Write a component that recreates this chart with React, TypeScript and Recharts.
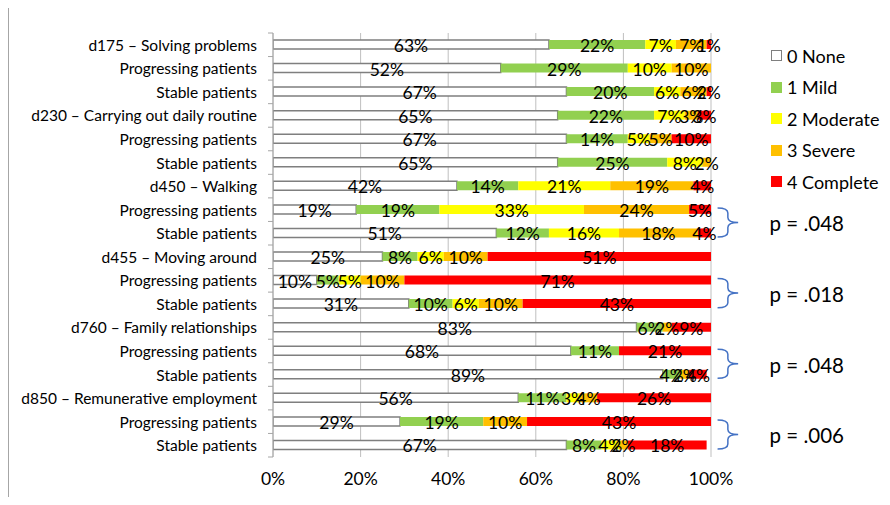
import React from 'react'
import {
  BarChart,
  Bar,
  XAxis,
  YAxis,
  CartesianGrid,
  LabelList,
  ReferenceArea,
} from 'recharts'

// ICF items, each followed by its two patient subgroups
const categories = [
  'd175 – Solving problems',
  'Progressing patients',
  'Stable patients',
  'd230 – Carrying out daily routine',
  'Progressing patients',
  'Stable patients',
  'd450 – Walking',
  'Progressing patients',
  'Stable patients',
  'd455 – Moving around',
  'Progressing patients',
  'Stable patients',
  'd760 – Family relationships',
  'Progressing patients',
  'Stable patients',
  'd850 – Remunerative employment',
  'Progressing patients',
  'Stable patients',
]

// share of patients (%) per qualifier
const none = [63, 52, 67, 65, 67, 65, 42, 19, 51, 25, 10, 31, 83, 68, 89, 56, 29, 67]
const mild = [22, 29, 20, 22, 14, 25, 14, 19, 12, 8, 5, 10, 6, 11, 4, 11, 19, 8]
const moderate = [7, 10, 6, 7, 5, 8, 21, 33, 16, 6, 5, 6, 0, 0, 0, 3, 0, 4]
const severe = [7, 10, 6, 3, 5, 2, 19, 24, 18, 10, 10, 10, 2, 0, 2, 4, 10, 2]
const complete = [1, 0, 2, 3, 10, 0, 4, 5, 4, 51, 71, 43, 9, 21, 4, 26, 43, 18]

const xTicks = [0, 20, 40, 60, 80, 100]

// subgroup comparisons: first and second row index, p value
const pFirst = [7, 10, 13, 16]
const pSecond = [8, 11, 14, 17]
const pValues = ['p = .048', 'p = .018', 'p = .048', 'p = .006']

const series = [
  { key: 'none', name: '0 None', fill: '#ffffff', stroke: '#7f7f7f' },
  { key: 'mild', name: '1 Mild', fill: '#92d050' },
  { key: 'moderate', name: '2 Moderate', fill: '#ffff00' },
  { key: 'severe', name: '3 Severe', fill: '#ffc000' },
  { key: 'complete', name: '4 Complete', fill: '#ff0000' },
]

const data = categories.map((label, i) => ({
  id: `r${i}`,
  label,
  none: none[i],
  mild: mild[i],
  moderate: moderate[i],
  severe: severe[i],
  complete: complete[i],
}))

const FONT = 'Lato, "Open Sans", sans-serif'
const W = 890
const H = 505
const MARGIN = { top: 33, right: 179, bottom: 18, left: 0 }
const Y_AXIS_W = 273
const X_AXIS_H = 30
const BAND = (H - MARGIN.top - MARGIN.bottom - X_AXIS_H) / categories.length

const CategoryTick = (props: any) => {
  const { x, y, payload, index } = props
  const row = data.find((d) => d.id === payload.value)
  const axisX = x + 16
  return (
    <g>
      <line x1={axisX - 5} x2={axisX} y1={y - BAND / 2} y2={y - BAND / 2} stroke="#a6a6a6" />
      {index === categories.length - 1 && (
        <line x1={axisX - 5} x2={axisX} y1={y + BAND / 2} y2={y + BAND / 2} stroke="#a6a6a6" />
      )}
      <text
        x={x}
        y={y}
        textAnchor="end"
        dominantBaseline="central"
        fontFamily={FONT}
        fontSize={15.5}
        fill="#000"
      >
        {row ? row.label : ''}
      </text>
    </g>
  )
}

const PercentLabel = (props: any) => {
  const { x, y, width, height, value } = props
  if (!value) return null
  return (
    <text
      x={Number(x) + Number(width) / 2}
      y={Number(y) + Number(height) / 2 + 1}
      textAnchor="middle"
      dominantBaseline="central"
      fontFamily={FONT}
      fontSize={17.5}
      fill="#000"
    >
      {value}%
    </text>
  )
}

// curly brace grouping two rows, with the test result to its right
const makeBrace = (text: string) => (props: any) => {
  const { x, y, width, height } = props
  const top = y + 10
  const bottom = y + height - 8
  const mid = (top + bottom) / 2
  const xm = x + width / 2
  const xt = x + width
  const r = 5
  const d = [
    `M${x},${top}`,
    `Q${xm},${top} ${xm},${top + r}`,
    `L${xm},${mid - r}`,
    `Q${xm},${mid} ${xt},${mid}`,
    `Q${xm},${mid} ${xm},${mid + r}`,
    `L${xm},${bottom - r}`,
    `Q${xm},${bottom} ${x},${bottom}`,
  ].join(' ')
  return (
    <g>
      <path d={d} fill="none" stroke="#4472c4" strokeWidth={1.5} />
      <text
        x={x + 52}
        y={mid + 1}
        dominantBaseline="central"
        fontFamily={FONT}
        fontSize={20.5}
        fill="#000"
      >
        {text}
      </text>
    </g>
  )
}

function SeverityLegend() {
  return (
    <div
      style={{
        position: 'absolute',
        left: 771,
        top: 40,
        fontFamily: FONT,
        fontSize: 18,
        color: '#000',
        whiteSpace: 'nowrap',
      }}
    >
      {series.map((s) => (
        <div key={s.key} style={{ display: 'flex', alignItems: 'center', height: 31.5 }}>
          <span
            style={{
              display: 'inline-block',
              flexShrink: 0,
              width: s.stroke ? 9 : 11,
              height: s.stroke ? 9 : 11,
              background: s.fill,
              border: s.stroke ? `1.5px solid ${s.stroke}` : 'none',
              marginRight: 5,
            }}
          />
          {s.name}
        </div>
      ))}
    </div>
  )
}

export default function App() {
  return (
    <div style={{ position: 'relative', width: W, height: H, margin: -8, background: '#fff', overflow: 'hidden' }}>
      <div
        style={{
          position: 'absolute',
          left: 8,
          top: -2,
          width: 879,
          height: 504,
          borderLeft: '1px solid #a6a6a6',
          borderRight: '1px solid #a6a6a6',
          borderBottom: '1px solid #a6a6a6',
          boxSizing: 'border-box',
        }}
      />
      <div style={{ position: 'absolute', left: 0, top: 0 }}>
        <BarChart width={W} height={H} data={data} layout="vertical" margin={MARGIN} barSize={9}>
          <CartesianGrid horizontal={false} stroke="#bfbfbf" />
          <XAxis
            type="number"
            domain={[0, 100]}
            allowDataOverflow
            ticks={xTicks}
            tickFormatter={(v) => `${v}%`}
            axisLine={false}
            tickLine={false}
            tickSize={0}
            tickMargin={16}
            height={X_AXIS_H}
            tick={{ fontFamily: FONT, fontSize: 17.5, fill: '#000' }}
          />
          <YAxis
            type="category"
            dataKey="id"
            width={Y_AXIS_W}
            axisLine={{ stroke: '#a6a6a6' }}
            tickLine={false}
            tickSize={0}
            tickMargin={16}
            interval={0}
            tick={<CategoryTick />}
          />
          {series.map((s) => (
            <Bar
              key={s.key}
              dataKey={s.key}
              name={s.name}
              stackId="a"
              fill={s.fill}
              stroke={s.stroke}
              strokeWidth={s.stroke ? 1.5 : 0}
              isAnimationActive={false}
            >
              <LabelList dataKey={s.key} content={<PercentLabel />} />
            </Bar>
          ))}
          {pValues.map((p, i) => (
            <ReferenceArea
              key={i}
              x1={101.5}
              x2={106.2}
              y1={`r${pFirst[i]}`}
              y2={`r${pSecond[i]}`}
              ifOverflow="visible"
              shape={makeBrace(p)}
            />
          ))}
        </BarChart>
      </div>
      <SeverityLegend />
    </div>
  )
}
